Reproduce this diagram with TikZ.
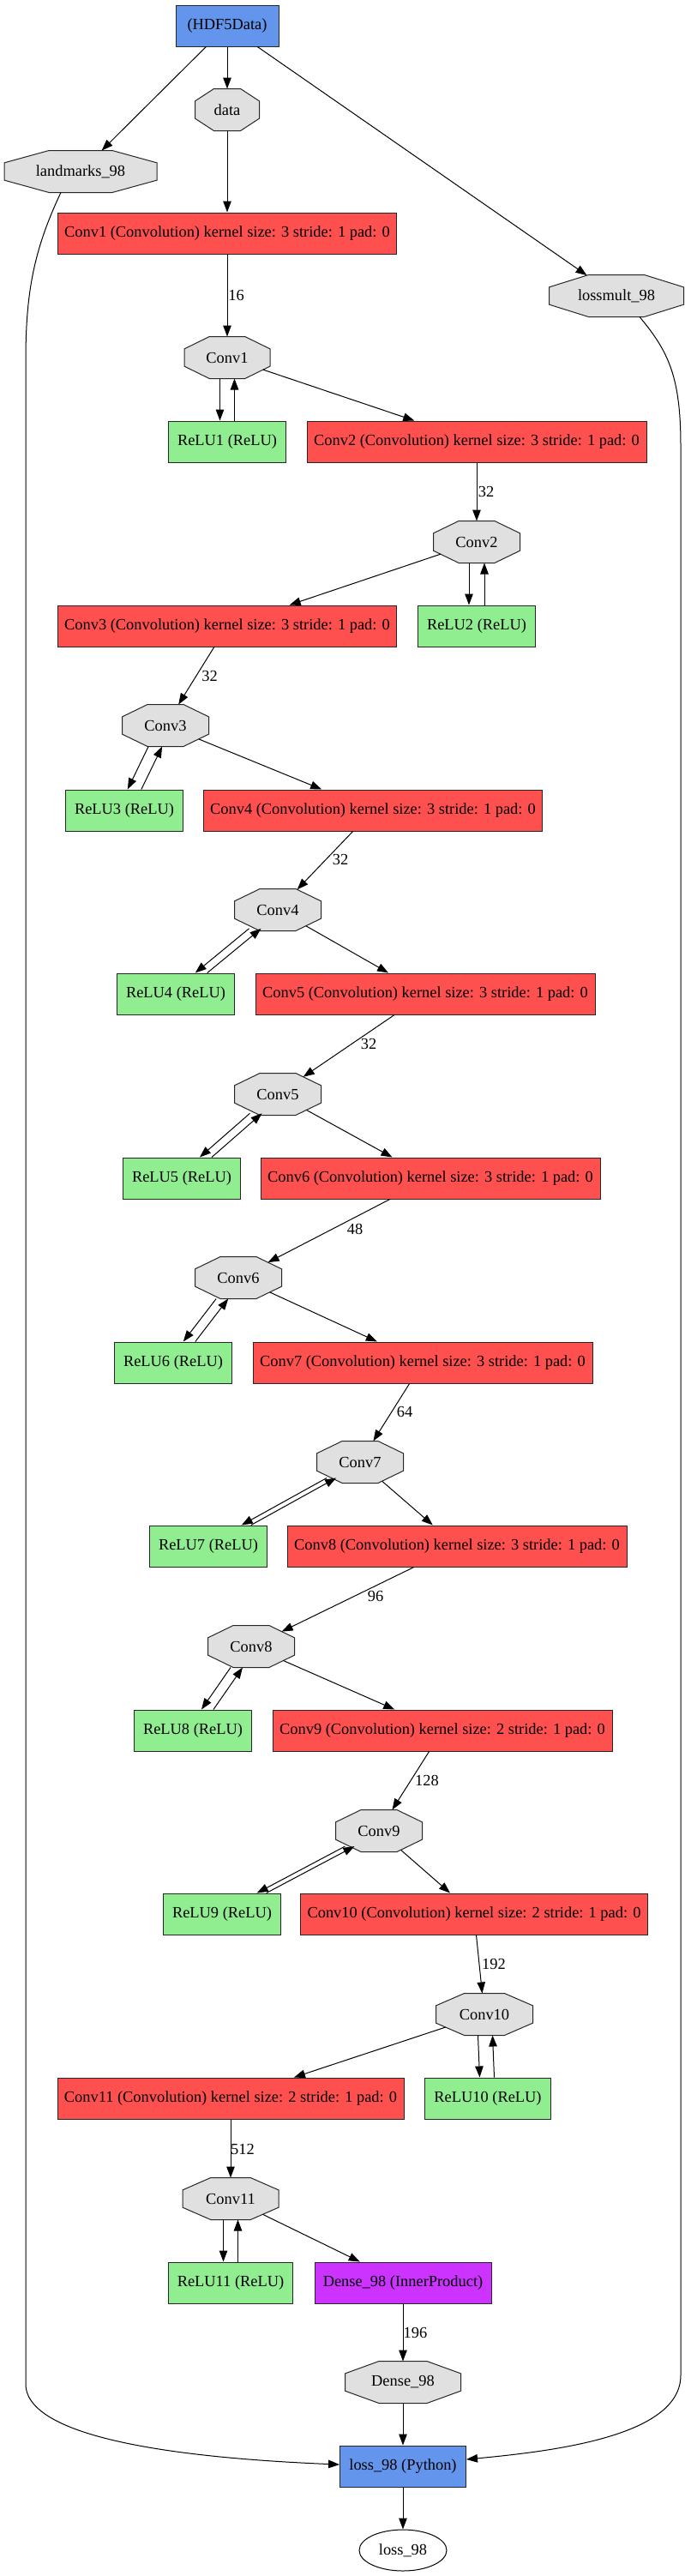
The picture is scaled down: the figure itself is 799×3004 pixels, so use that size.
\documentclass[tikz,border=0pt]{standalone}
\usepackage{fontspec}
\setmainfont{Liberation Serif}
\usetikzlibrary{arrows.meta,shapes.geometric}
\definecolor{convred}{HTML}{FF5050}
\definecolor{relugreen}{HTML}{90EE90}
\definecolor{otherblue}{HTML}{6495ED}
\definecolor{ippurple}{HTML}{CC33FF}
\definecolor{blobgray}{HTML}{E0E0E0}
\makeatletter
\pgfdeclareshape{octo}{%
  \inheritsavedanchors[from=rectangle]%
  \inheritanchor[from=rectangle]{center}%
  \inheritanchor[from=rectangle]{north}%
  \inheritanchor[from=rectangle]{south}%
  \inheritanchor[from=rectangle]{east}%
  \inheritanchor[from=rectangle]{west}%
  \inheritanchor[from=rectangle]{mid}%
  \inheritanchor[from=rectangle]{base}%
  \backgroundpath{%
    \southwest\edef\octxa{\strip@pt\pgf@x}\edef\octya{\strip@pt\pgf@y}%
    \northeast\edef\octxb{\strip@pt\pgf@x}\edef\octyb{\strip@pt\pgf@y}%
    \pgfmathsetmacro\octcx{(\octxa+\octxb)/2}%
    \pgfmathsetmacro\octcy{(\octya+\octyb)/2}%
    \pgfmathsetmacro\octw{(\octxb-\octxa)/2}%
    \pgfmathsetmacro\octh{(\octyb-\octya)/2}%
    \pgfmathsetmacro\octwa{0.414214*\octw}%
    \pgfmathsetmacro\octha{0.414214*\octh}%
    \pgfpathmoveto{\pgfpoint{(\octcx+\octwa)*1pt}{(\octcy+\octh)*1pt}}%
    \pgfpathlineto{\pgfpoint{(\octcx+\octw)*1pt}{(\octcy+\octha)*1pt}}%
    \pgfpathlineto{\pgfpoint{(\octcx+\octw)*1pt}{(\octcy-\octha)*1pt}}%
    \pgfpathlineto{\pgfpoint{(\octcx+\octwa)*1pt}{(\octcy-\octh)*1pt}}%
    \pgfpathlineto{\pgfpoint{(\octcx-\octwa)*1pt}{(\octcy-\octh)*1pt}}%
    \pgfpathlineto{\pgfpoint{(\octcx-\octw)*1pt}{(\octcy-\octha)*1pt}}%
    \pgfpathlineto{\pgfpoint{(\octcx-\octw)*1pt}{(\octcy+\octha)*1pt}}%
    \pgfpathlineto{\pgfpoint{(\octcx-\octwa)*1pt}{(\octcy+\octh)*1pt}}%
    \pgfpathclose
  }%
  \anchorborder{%
    \edef\octdx{\strip@pt\pgf@x}\edef\octdy{\strip@pt\pgf@y}%
    \southwest\edef\octxa{\strip@pt\pgf@x}\edef\octya{\strip@pt\pgf@y}%
    \northeast\edef\octxb{\strip@pt\pgf@x}\edef\octyb{\strip@pt\pgf@y}%
    \pgfmathsetmacro\octw{(\octxb-\octxa)/2}%
    \pgfmathsetmacro\octh{(\octyb-\octya)/2}%
    \pgfmathsetmacro\octp{abs(\octdx)/\octw}%
    \pgfmathsetmacro\octq{abs(\octdy)/\octh}%
    \pgfmathsetmacro\octm{max(\octp,\octq,(\octp+\octq)/1.414214)+0.00001}%
    \pgfmathsetmacro\octbx{(\octxa+\octxb)/2+\octdx/\octm}%
    \pgfmathsetmacro\octby{(\octya+\octyb)/2+\octdy/\octm}%
    \pgf@x=\octbx pt\relax
    \pgf@y=\octby pt\relax
  }%
}
\makeatother
\begin{document}
\begin{tikzpicture}[x=1pt,y=-1pt,
  font=\fontsize{18.4}{22}\selectfont,
  base/.style={draw=black!85, line width=1pt, minimum height=48pt, inner sep=0pt},
  blob/.style={base, shape=octo, fill=blobgray},
  conv/.style={base, rectangle, fill=convred},
  relu/.style={base, rectangle, fill=relugreen, minimum width=137pt},
  other/.style={base, rectangle, fill=otherblue},
  ip/.style={base, rectangle, fill=ippurple},
  arr/.style={line width=1pt, -{Triangle[length=13pt,width=9.5pt]}},
  lbl/.style={inner sep=0pt}
]
\useasboundingbox (0,0) rectangle (799,3004);
\path[fill=white] (0,0) rectangle (799,3004);

% nodes
\node[other, minimum width=120pt] (hdf) at (265,30) {(HDF5Data)};
\node[blob, minimum width=74pt] (data) at (265,128) {data};
\node[blob, minimum width=177pt] (lm) at (94,200) {landmarks\_98};
\node[blob, minimum width=156pt] (lossmult) at (719,345) {lossmult\_98};
\node[conv, minimum width=395pt] (cv1) at (265,272) {Conv1 (Convolution) kernel size: 3 stride: 1 pad: 0};
\node[blob, minimum width=99pt] (c1) at (265,417) {Conv1};
\node[relu] (r1) at (265,515) {ReLU1 (ReLU)};
\node[conv, minimum width=396pt] (cv2) at (556,515) {Conv2 (Convolution) kernel size: 3 stride: 1 pad: 0};
\node[blob, minimum width=100pt] (c2) at (556,632) {Conv2};
\node[conv, minimum width=395pt] (cv3) at (265,730) {Conv3 (Convolution) kernel size: 3 stride: 1 pad: 0};
\node[relu] (r2) at (556,730) {ReLU2 (ReLU)};
\node[blob, minimum width=100pt] (c3) at (193,846) {Conv3};
\node[relu] (r3) at (145,945) {ReLU3 (ReLU)};
\node[conv, minimum width=395pt] (cv4) at (435,945) {Conv4 (Convolution) kernel size: 3 stride: 1 pad: 0};
\node[blob, minimum width=100pt] (c4) at (324,1061) {Conv4};
\node[relu] (r4) at (205,1159) {ReLU4 (ReLU)};
\node[conv, minimum width=396pt] (cv5) at (496,1159) {Conv5 (Convolution) kernel size: 3 stride: 1 pad: 0};
\node[blob, minimum width=100pt] (c5) at (324,1276) {Conv5};
\node[relu] (r5) at (212,1374) {ReLU5 (ReLU)};
\node[conv, minimum width=396pt] (cv6) at (502,1374) {Conv6 (Convolution) kernel size: 3 stride: 1 pad: 0};
\node[blob, minimum width=100pt] (c6) at (278,1490) {Conv6};
\node[relu] (r6) at (202,1589) {ReLU6 (ReLU)};
\node[conv, minimum width=396pt] (cv7) at (493,1589) {Conv7 (Convolution) kernel size: 3 stride: 1 pad: 0};
\node[blob, minimum width=100pt] (c7) at (420,1705) {Conv7};
\node[relu] (r7) at (243,1803) {ReLU7 (ReLU)};
\node[conv, minimum width=396pt] (cv8) at (533,1803) {Conv8 (Convolution) kernel size: 3 stride: 1 pad: 0};
\node[blob, minimum width=100pt] (c8) at (293,1920) {Conv8};
\node[relu] (r8) at (225,2018) {ReLU8 (ReLU)};
\node[conv, minimum width=396pt] (cv9) at (516,2018) {Conv9 (Convolution) kernel size: 2 stride: 1 pad: 0};
\node[blob, minimum width=100pt] (c9) at (442,2135) {Conv9};
\node[relu] (r9) at (259,2232) {ReLU9 (ReLU)};
\node[conv, minimum width=405pt] (cv10) at (553,2232) {Conv10 (Convolution) kernel size: 2 stride: 1 pad: 0};
\node[blob, minimum width=112pt] (c10) at (565,2349) {Conv10};
\node[conv, minimum width=404pt] (cv11) at (269,2447) {Conv11 (Convolution) kernel size: 2 stride: 1 pad: 0};
\node[relu, minimum width=147pt] (r10) at (569,2447) {ReLU10 (ReLU)};
\node[blob, minimum width=111pt] (c11) at (269,2564) {Conv11};
\node[relu, minimum width=145pt] (r11) at (269,2662) {ReLU11 (ReLU)};
\node[ip, minimum width=206pt] (dense) at (470,2662) {Dense\_98 (InnerProduct)};
\node[blob, minimum width=134pt] (d98) at (470,2778) {Dense\_98};
\node[other, minimum width=147pt] (loss) at (470,2876) {loss\_98 (Python)};
\node[draw=black, line width=1pt, ellipse, minimum width=102pt, minimum height=48pt, inner sep=0pt] (losse) at (470,2974) {loss\_98};

% edge labels
\node[lbl] (l1) at (275.5,344) {16};
\node[lbl] (l2) at (567,573) {32};
\node[lbl] (l3) at (244.5,788) {32};
\node[lbl] (l4) at (397,1002) {32};
\node[lbl] (l5) at (430,1217) {32};
\node[lbl] (l6) at (414,1433) {48};
\node[lbl] (l7) at (472,1646) {64};
\node[lbl] (l8) at (438,1861) {96};
\node[lbl] (l9) at (498,2076) {128};
\node[lbl] (l10) at (576,2290) {192};
\node[lbl] (l11) at (283,2506) {512};
\node[lbl] (l12) at (484.5,2720) {196};

% edges
\draw[arr] (hdf) -- (lm);
\draw[arr] (hdf) -- (data);
\draw[arr] (hdf) -- (lossmult);
\draw[arr] (data) -- (cv1);
\draw[arr] (cv1) -- (c1);
\draw[arr] (c1) -- (cv2);
\draw[arr] (cv2) -- (c2);
\draw[arr] (c2) -- (cv3);
\draw[arr] (cv3) -- (c3);
\draw[arr] (c3) -- (cv4);
\draw[arr] (cv4) -- (c4);
\draw[arr] (c4) -- (cv5);
\draw[arr] (cv5) -- (c5);
\draw[arr] (c5) -- (cv6);
\draw[arr] (cv6) -- (c6);
\draw[arr] (c6) -- (cv7);
\draw[arr] (cv7) -- (c7);
\draw[arr] (c7) -- (cv8);
\draw[arr] (cv8) -- (c8);
\draw[arr] (c8) -- (cv9);
\draw[arr] (cv9) -- (c9);
\draw[arr] (c9) -- (cv10);
\draw[arr] (cv10) -- (c10);
\draw[arr] (c10) -- (cv11);
\draw[arr] (cv11) -- (c11);
\draw[arr] (c11) -- (dense);
\draw[arr] (dense) -- (d98);
\draw[arr] (d98) -- (loss);
\draw[arr] (loss) -- (losse);

% in-place ReLU pairs
\foreach \c/\r/\s in {c1/r1/8.5, c2/r2/9, c3/r3/8, c4/r4/7, c5/r5/7, c6/r6/7, c7/r7/5.5, c8/r8/7, c9/r9/5.5, c10/r10/8.5, c11/r11/8.5}{
  \draw[arr, transform canvas={xshift=-\s pt}] (\c) -- (\r);
  \draw[arr, transform canvas={xshift=\s pt}] (\r) -- (\c);
}

% long curves to loss
\draw[arr] ([xshift=-23pt]lm.south) .. controls (40,290) and (30,340) .. (30,420)
  -- (30,2780) .. controls (30,2850) and (250,2868) .. ([yshift=2pt]loss.west);
\draw[arr] ([xshift=27pt]lossmult.south) .. controls (780,410) and (794,440) .. (794,520)
  -- (794,2770) .. controls (794,2840) and (650,2858) .. ([yshift=8pt]loss.east);
\end{tikzpicture}
\end{document}
